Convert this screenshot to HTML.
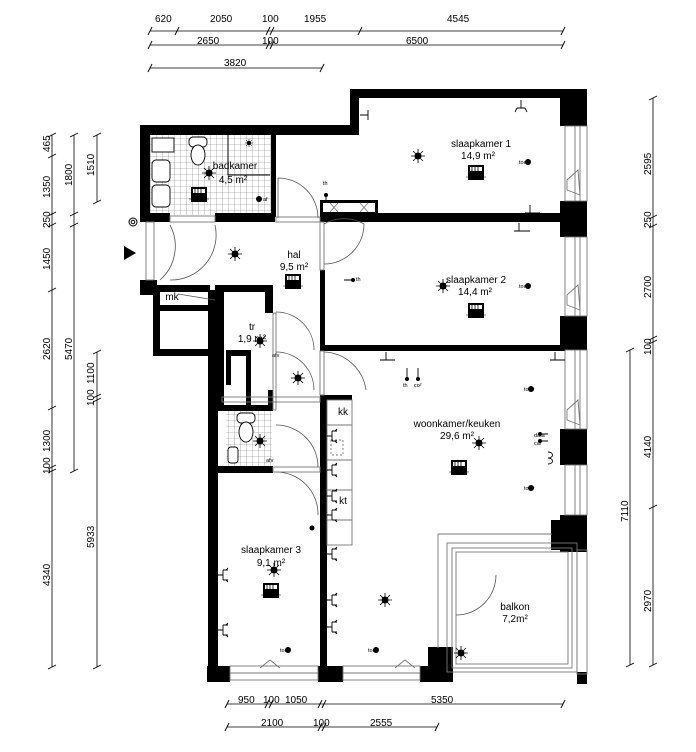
<!DOCTYPE html>
<html><head><meta charset="utf-8"><style>
html,body{margin:0;padding:0;background:#fff;}
svg{display:block;}
text{font-family:"Liberation Sans",sans-serif;fill:#000;}
</style></head><body>
<svg width="696" height="752" viewBox="0 0 696 752" xmlns="http://www.w3.org/2000/svg">
<defs>
<pattern id="tile" width="6" height="6" patternUnits="userSpaceOnUse"><path d="M0 0H6M0 0V6" stroke="#777" stroke-width="0.6" fill="none"/></pattern>
<g id="lamp"><circle r="3.5" fill="#000"/><path d="M-7 0H7M0 -7V7M-5 -5L5 5M-5 5L5 -5" stroke="#000" stroke-width="0.8"/></g>
<g id="rad"><rect x="-8" y="-8" width="16" height="15" fill="#000"/><rect x="-6" y="-6" width="12" height="4" fill="#fff"/><path d="M-4 -6V-2M-1 -6V-2M2 -6V-2" stroke="#000" stroke-width="0.8"/><path d="M-10 4H10" stroke="#000" stroke-width="0.6"/></g>
<g id="sockr"><path d="M0 0H5M5 -5V5M5 -5H10M5 5H10M8 -5L10 -7M8 5L10 7" stroke="#000" stroke-width="0.9" fill="none"/></g>
<g id="tick"><path d="M-2 4L2 -4" stroke="#000" stroke-width="0.9"/></g>
<g id="tickv"><path d="M-4 2L4 -2" stroke="#000" stroke-width="0.9"/></g>
</defs>

<g stroke="#000" stroke-width="0.8">
<path d="M150 31H563M150 45H563M150 68H322"/>
</g>
<g><use href="#tick" x="150" y="31"/><use href="#tick" x="177" y="31"/><use href="#tick" x="268" y="31"/><use href="#tick" x="272" y="31"/><use href="#tick" x="360" y="31"/><use href="#tick" x="563" y="31"/>
<use href="#tick" x="150" y="45"/><use href="#tick" x="268" y="45"/><use href="#tick" x="272" y="45"/><use href="#tick" x="563" y="45"/>
<use href="#tick" x="150" y="68"/><use href="#tick" x="322" y="68"/></g>
<g font-size="10">
<text x="155" y="22">620</text><text x="210" y="22">2050</text><text x="262" y="22">100</text><text x="304" y="22">1955</text><text x="447" y="22">4545</text>
<text x="197" y="44">2650</text><text x="262" y="44">100</text><text x="406" y="44">6500</text>
<text x="224" y="66">3820</text>
</g>

<g stroke="#000" stroke-width="0.8"><path d="M52 135V667M74 135V471M97 135V202M97 352V667"/></g>
<g><use href="#tickv" x="52" y="135"/><use href="#tickv" x="52" y="156"/><use href="#tickv" x="52" y="214"/><use href="#tickv" x="52" y="225"/><use href="#tickv" x="52" y="290"/><use href="#tickv" x="52" y="408"/><use href="#tickv" x="52" y="467"/><use href="#tickv" x="52" y="471"/><use href="#tickv" x="52" y="667"/>
<use href="#tickv" x="74" y="135"/><use href="#tickv" x="74" y="214"/><use href="#tickv" x="74" y="225"/><use href="#tickv" x="74" y="471"/>
<use href="#tickv" x="97" y="135"/><use href="#tickv" x="97" y="202"/><use href="#tickv" x="97" y="352"/><use href="#tickv" x="97" y="396"/><use href="#tickv" x="97" y="400"/><use href="#tickv" x="97" y="667"/></g>
<g font-size="10">
<text transform="translate(50,152) rotate(-90)">465</text>
<text transform="translate(50,198) rotate(-90)">1350</text>
<text transform="translate(50,228) rotate(-90)">250</text>
<text transform="translate(50,270) rotate(-90)">1450</text>
<text transform="translate(50,360) rotate(-90)">2620</text>
<text transform="translate(50,452) rotate(-90)">1300</text>
<text transform="translate(50,474) rotate(-90)">100</text>
<text transform="translate(50,586) rotate(-90)">4340</text>
<text transform="translate(72,186) rotate(-90)">1800</text>
<text transform="translate(72,360) rotate(-90)">5470</text>
<text transform="translate(94,176) rotate(-90)">1510</text>
<text transform="translate(94,384) rotate(-90)">1100</text>
<text transform="translate(94,406) rotate(-90)">100</text>
<text transform="translate(94,548) rotate(-90)">5933</text>
</g>

<g stroke="#000" stroke-width="0.8"><path d="M653 98V665M630 350V665"/></g>
<g><use href="#tickv" x="653" y="98"/><use href="#tickv" x="653" y="217"/><use href="#tickv" x="653" y="226"/><use href="#tickv" x="653" y="338"/><use href="#tickv" x="653" y="342"/><use href="#tickv" x="653" y="507"/><use href="#tickv" x="653" y="665"/><use href="#tickv" x="630" y="350"/><use href="#tickv" x="630" y="665"/></g>
<g font-size="10">
<text transform="translate(651,175) rotate(-90)">2595</text>
<text transform="translate(651,228) rotate(-90)">250</text>
<text transform="translate(651,298) rotate(-90)">2700</text>
<text transform="translate(651,355) rotate(-90)">100</text>
<text transform="translate(651,458) rotate(-90)">4140</text>
<text transform="translate(651,612) rotate(-90)">2970</text>
<text transform="translate(628,522) rotate(-90)">7110</text>
</g>

<g stroke="#000" stroke-width="0.8"><path d="M227 704H563M227 727H437"/></g>
<g><use href="#tick" x="227" y="704"/><use href="#tick" x="267" y="704"/><use href="#tick" x="271" y="704"/><use href="#tick" x="320" y="704"/><use href="#tick" x="324" y="704"/><use href="#tick" x="563" y="704"/><use href="#tick" x="227" y="727"/><use href="#tick" x="320" y="727"/><use href="#tick" x="324" y="727"/><use href="#tick" x="437" y="727"/></g>
<g font-size="10">
<text x="238" y="703">950</text><text x="263" y="703">100</text><text x="285" y="703">1050</text><text x="431" y="703">5350</text>
<text x="261" y="726">2100</text><text x="313" y="726">100</text><text x="370" y="726">2555</text>
</g>

<rect x="150" y="135" width="122" height="80" fill="url(#tile)"/>
<rect x="226" y="410" width="46" height="58" fill="url(#tile)"/>

<g fill="#000">
<rect x="350" y="89" width="215" height="9"/>
<rect x="350" y="89" width="9" height="44"/>
<rect x="140" y="125" width="219" height="10"/>
<rect x="140" y="125" width="10" height="97"/>
<rect x="271" y="133" width="5" height="84"/>
<rect x="140" y="213" width="30" height="9"/>
<rect x="215" y="213" width="60" height="9"/>
<rect x="320" y="213" width="245" height="9"/>
<rect x="320" y="270" width="5" height="80"/>
<rect x="320" y="345" width="245" height="6"/>
<rect x="560" y="89" width="27" height="37"/>
<rect x="560" y="201" width="27" height="36"/>
<rect x="560" y="316" width="27" height="34"/>
<rect x="560" y="429" width="27" height="36"/>
<rect x="560" y="515" width="27" height="37"/>
<rect x="551" y="520" width="20" height="30"/>
<rect x="140" y="280" width="17" height="15"/>
<rect x="150" y="285" width="60" height="7"/>
<rect x="215" y="285" width="58" height="7"/>
<rect x="153" y="290" width="7" height="65"/>
<rect x="153" y="305" width="65" height="6"/>
<rect x="153" y="349" width="65" height="7"/>
<rect x="208" y="290" width="10" height="390"/>
<rect x="216" y="290" width="8" height="120"/>
<rect x="265" y="285" width="8" height="28"/>
<rect x="226" y="350" width="20" height="6"/>
<rect x="226" y="355" width="5" height="30"/>
<rect x="246" y="350" width="5" height="60"/>
<rect x="268" y="390" width="5" height="20"/>
<rect x="218" y="405" width="55" height="6"/>
<rect x="218" y="466" width="55" height="7"/>
<rect x="320" y="395" width="7" height="285"/>
<rect x="320" y="395" width="32" height="5"/>
<rect x="207" y="666" width="23" height="16"/>
<rect x="318" y="666" width="25" height="16"/>
<rect x="420" y="666" width="33" height="16"/>
<rect x="428" y="647" width="25" height="35"/>
<rect x="577" y="672" width="10" height="12"/>
</g>
<!-- box with crosses -->
<rect x="321.5" y="201.5" width="55" height="12" fill="#fff" stroke="#000" stroke-width="3"/>
<path d="M330 203L338 212M338 203L330 212M360 203L368 212M368 203L360 212" stroke="#777" stroke-width="0.8"/>

<g fill="none" stroke="#777" stroke-width="0.9">
<rect x="565" y="126" width="22" height="75"/><path d="M575 126V201M580 126V201"/>
<rect x="565" y="237" width="22" height="79"/><path d="M575 237V316M580 237V316"/>
<rect x="565" y="350" width="22" height="79"/><path d="M575 350V429M580 350V429"/>
<rect x="565" y="465" width="22" height="50"/><path d="M575 465V515M580 465V515"/>
<path d="M567 180L578 170L580 195L567 190Z M567 295L578 285L580 310L567 305Z M567 410L578 400L580 425L567 420Z"/>
<rect x="230" y="666" width="88" height="14"/><path d="M230 673H318"/>
<rect x="343" y="666" width="77" height="14"/><path d="M343 673H420"/>
<path d="M260 668L270 660L280 668M395 668L405 660L415 668"/>
<rect x="146" y="222" width="8" height="58"/>
<rect x="170" y="216" width="45" height="6"/>
<rect x="276" y="217" width="44" height="5"/>
<rect x="320" y="222" width="4" height="48"/>
<rect x="320" y="351" width="4" height="44"/>
<rect x="273" y="313" width="3" height="97"/>
<rect x="222" y="397" width="98" height="5"/>
<rect x="273" y="467" width="47" height="5"/>
<path d="M438 648V534H552"/>
<rect x="447" y="543" width="130" height="129"/>
<rect x="452" y="548" width="120" height="120"/>
<rect x="456" y="552" width="112" height="112"/>
<rect x="577" y="550" width="10" height="124"/>
<rect x="327" y="400" width="25" height="145"/>
<path d="M327 425H352M327 460H352M327 490H352M327 520H352"/>
<rect x="331" y="440" width="12" height="15" stroke-dasharray="2 2"/>
</g>

<g fill="none" stroke="#555" stroke-width="0.8">
<path d="M278 178A40 40 0 0 1 318 218M278 178V218"/>
<path d="M324 224A40 40 0 0 1 364 224A40 40 0 0 1 324 264"/>
<path d="M170 225A45 45 0 0 1 160 280M215 225A45 45 0 0 1 170 280"/>
<path d="M276 312A38 38 0 0 1 314 350M276 352A38 38 0 0 1 314 390"/>
<path d="M276 425A42 42 0 0 1 318 467M276 472A42 42 0 0 1 318 515"/>
<path d="M324 352A44 44 0 0 1 366 390"/>
<path d="M456 615A40 40 0 0 0 496 575"/>
<path d="M178 294L215 300"/>
</g>

<g fill="#fff" stroke="#000" stroke-width="0.9">
<rect x="152" y="138" width="22" height="14" fill="#fff"/>
<rect x="189" y="137" width="18" height="10" rx="4"/>
<ellipse cx="198" cy="155" rx="7" ry="10"/>
<rect x="152" y="160" width="18" height="22" rx="4"/>
<rect x="152" y="185" width="18" height="22" rx="4"/>
<rect x="237" y="413" width="18" height="10" rx="4"/>
<ellipse cx="246" cy="432" rx="7" ry="10"/>
<rect x="228" y="447" width="10" height="16" rx="3"/>
</g>
<path d="M228 133V175H270" fill="none" stroke="#000" stroke-width="1"/>

<use href="#lamp" x="418" y="156"/><use href="#lamp" x="209" y="173"/><use href="#lamp" x="235" y="254"/>
<use href="#lamp" x="443" y="286"/><use href="#lamp" x="260" y="341"/><use href="#lamp" x="298" y="378"/>
<use href="#lamp" x="479" y="443"/><use href="#lamp" x="260" y="441"/><use href="#lamp" x="274" y="570"/><use href="#lamp" x="385" y="600"/>
<g transform="translate(249,143) scale(0.6)"><use href="#lamp"/></g>
<use href="#rad" x="476" y="173"/><use href="#rad" x="199" y="195"/><use href="#rad" x="293" y="282"/>
<use href="#rad" x="476" y="311"/><use href="#rad" x="459" y="468"/><use href="#rad" x="271" y="591"/>
<g fill="#000">
<circle cx="528" cy="162" r="3"/><circle cx="528" cy="286" r="3"/><circle cx="531" cy="389" r="3"/><circle cx="531" cy="488" r="3"/>
<circle cx="288" cy="650" r="3"/><circle cx="376" cy="650" r="3"/><circle cx="259" cy="199" r="3"/><circle cx="326" cy="195" r="2"/>
<circle cx="407" cy="379" r="2"/><circle cx="418" cy="379" r="2"/><circle cx="540" cy="434" r="2"/><circle cx="540" cy="441" r="2"/>
<circle cx="312" cy="528" r="2.5"/><circle cx="353" cy="280" r="2"/>
</g>
<g font-size="5.5"><text x="519" y="164">toev</text><text x="519" y="288">toev</text><text x="524" y="391">toev</text><text x="524" y="490">toev</text>
<text x="280" y="652">toev</text><text x="368" y="652">toev</text><text x="323" y="185">th</text><text x="356" y="281">th</text>
<text x="403" y="387">th</text><text x="414" y="387">co²</text><text x="534" y="437">data</text><text x="534" y="445">cai</text>
<text x="263" y="201">af</text><text x="272" y="357">afv</text><text x="266" y="462">afv</text></g>
<g stroke="#000" stroke-width="0.9" fill="none">
<path d="M407 379V368M418 379V368M540 434H548M540 441H548M326 195V202M353 280H344"/>
<path d="M521 100V108M517 108H525M517 108L515 112M525 108L527 112"/>
<path d="M360 115H368M368 110V120"/>
<path d="M530 205V213M525 213H540M523 217H540"/>
<path d="M519 223V231M514 231H530"/>
<path d="M386 352V360M380 360H395M555 352V360M550 360H565"/>
<path d="M548 452C554 452 554 458 548 458C554 458 554 464 548 464"/>
</g>
<use href="#sockr" x="327" y="436"/><use href="#sockr" x="327" y="470"/><use href="#sockr" x="327" y="496"/><use href="#sockr" x="327" y="515"/><use href="#sockr" x="327" y="554"/><use href="#sockr" x="327" y="600"/><use href="#sockr" x="327" y="627"/>
<use href="#sockr" x="218" y="575"/><use href="#sockr" x="218" y="630"/>
<use href="#lamp" x="461" y="653"/>

<polygon points="124,246 136,253 124,260" fill="#000"/>
<circle cx="133" cy="222" r="4" fill="none" stroke="#000"/><circle cx="133" cy="222" r="1.8" fill="none" stroke="#000"/>

<g font-size="10" text-anchor="middle">
<text x="481" y="147">slaapkamer 1</text><text x="478" y="159">14,9 m²</text>
<text x="235" y="169">badkamer</text><text x="233" y="183">4,5 m²</text>
<text x="294" y="258">hal</text><text x="294" y="270">9,5 m²</text>
<text x="476" y="283">slaapkamer 2</text><text x="475" y="295">14,4 m²</text>
<text x="252" y="330">tr</text><text x="252" y="342">1,9 m²</text>
<text x="457" y="427">woonkamer/keuken</text><text x="457" y="439">29,6 m²</text>
<text x="271" y="553">slaapkamer 3</text><text x="271" y="566">9,1 m²</text>
<text x="515" y="610">balkon</text><text x="515" y="622">7,2m²</text>
<text x="172" y="300" font-size="10">mk</text>
<text x="343" y="415">kk</text><text x="343" y="504">kt</text>
</g>
</svg>
</body></html>
